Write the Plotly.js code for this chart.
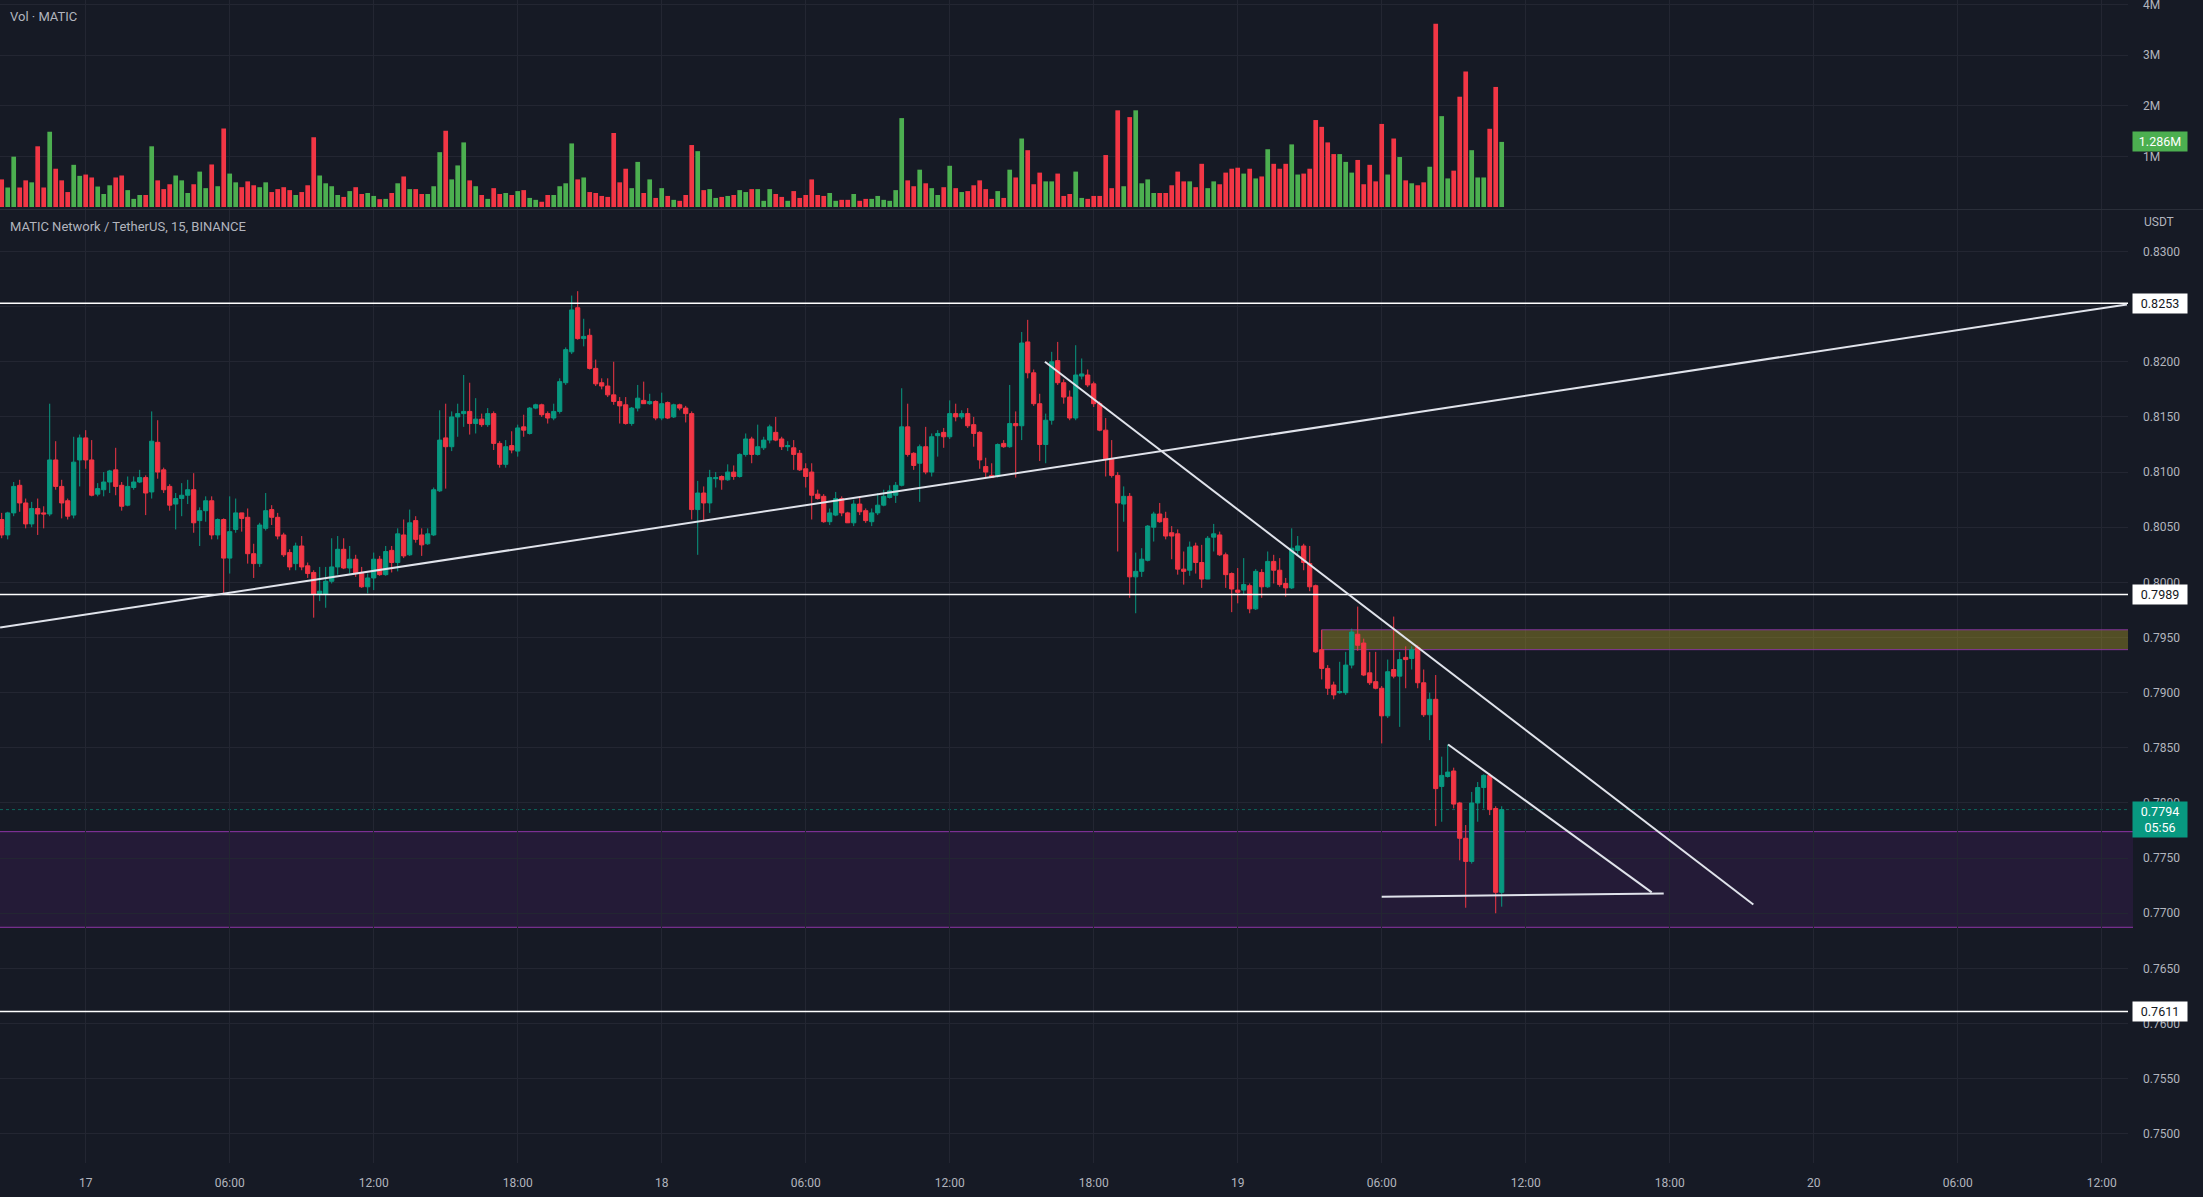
<!DOCTYPE html>
<html><head><meta charset="utf-8">
<script src="https://cdn.plot.ly/plotly-3.0.1.min.js"></script>
<style>html,body{margin:0;padding:0;background:#161a25;overflow:hidden}#chart{width:2203px;height:1197px}</style>
</head><body><div id="chart"></div>
<script>
// 15-minute candles, first candle 2022-12-16 20:30
const START = '2022-12-16T20:30:00Z';
const STEP_MIN = 15;
const OPEN = [
.8057,.8043,.8063,.8088,.8072,.8053,.8067,.8063,.8062,.8111,
.8087,.8074,.8061,.8111,.8131,.8111,.8080,.8084,.8091,.8102,
.8088,.8070,.8086,.8091,.8095,.8082,.8127,.8102,.8087,.8071,
.8076,.8079,.8084,.8056,.8065,.8074,.8043,.8057,.8022,.8048,
.8063,.8059,.8026,.8017,.8049,.8066,.8059,.8043,.8027,.8017,
.8033,.8015,.8009,.7989,.7989,.8001,.8014,.8030,.8013,.8021,
.8008,.7996,.8004,.8021,.8007,.8029,.8018,.8043,.8025,.8056,
.8043,.8035,.8043,.8083,.8131,.8123,.8150,.8153,.8155,.8144,
.8148,.8143,.8153,.8126,.8107,.8124,.8119,.8141,.8135,.8158,
.8161,.8153,.8149,.8155,.8181,.8209,.8249,.8221,.8224,.8194,
.8181,.8178,.8170,.8164,.8161,.8144,.8158,.8165,.8162,.8164,
.8149,.8163,.8150,.8161,.8158,.8153,.8066,.8081,.8072,.8094,
.8096,.8093,.8100,.8096,.8116,.8130,.8116,.8122,.8129,.8136,
.8130,.8123,.8122,.8117,.8103,.8100,.8080,.8078,.8055,.8061,
.8076,.8063,.8054,.8071,.8065,.8055,.8063,.8070,.8077,.8079,
.8088,.8141,.8117,.8108,.8123,.8100,.8133,.8136,.8132,.8153,
.8150,.8153,.8143,.8136,.8105,.8097,.8096,.8126,.8123,.8144,
.8142,.8218,.8190,.8162,.8125,.8147,.8201,.8181,.8168,.8149,
.8187,.8188,.8180,.8162,.8138,.8112,.8097,.8071,.8078,.8005,
.8010,.8020,.8050,.8062,.8058,.8045,.8044,.8012,.8011,.8033,
.8018,.8003,.8041,.8043,.8025,.8008,.7993,.7993,.7997,.7976,
.8009,.7996,.8019,.8011,.7999,.7995,.8029,.8033,.8017,.7997,
.7939,.7922,.7907,.7900,.7900,.7925,.7953,.7945,.7918,.7910,
.7904,.7879,.7921,.7915,.7932,.7931,.7941,.7909,.7880,.7894,
.7815,.7824,.7829,.7800,.7768,.7747,.7800,.7814,.7825,.7795,
.7719];
const HIGH = [
.8063,.8064,.8091,.8093,.8076,.8073,.8076,.8069,.8162,.8128,
.8093,.8076,.8132,.8134,.8138,.8129,.8090,.8100,.8102,.8122,
.8091,.8096,.8096,.8102,.8097,.8155,.8147,.8104,.8089,.8081,
.8090,.8093,.8099,.8068,.8078,.8078,.8058,.8058,.8078,.8076,
.8063,.8067,.8035,.8054,.8081,.8070,.8063,.8045,.8030,.8036,
.8042,.8018,.8011,.8014,.8014,.8040,.8042,.8040,.8033,.8025,
.8014,.8008,.8027,.8024,.8033,.8033,.8049,.8057,.8066,.8060,
.8049,.8049,.8086,.8156,.8162,.8155,.8162,.8188,.8181,.8167,
.8153,.8158,.8155,.8128,.8129,.8137,.8143,.8152,.8159,.8162,
.8162,.8155,.8162,.8185,.8213,.8260,.8264,.8239,.8230,.8202,
.8185,.8185,.8200,.8168,.8168,.8159,.8179,.8182,.8171,.8165,
.8172,.8164,.8162,.8162,.8160,.8155,.8092,.8087,.8102,.8100,
.8097,.8107,.8106,.8117,.8135,.8132,.8143,.8132,.8143,.8150,
.8132,.8128,.8129,.8120,.8108,.8108,.8084,.8080,.8067,.8082,
.8078,.8064,.8075,.8078,.8067,.8067,.8081,.8084,.8088,.8091,
.8176,.8162,.8118,.8125,.8141,.8135,.8138,.8140,.8165,.8162,
.8156,.8158,.8150,.8137,.8113,.8108,.8126,.8129,.8179,.8155,
.8227,.8238,.8193,.8171,.8153,.8209,.8218,.8184,.8174,.8215,
.8203,.8193,.8182,.8164,.8149,.8129,.8100,.8087,.8081,.8027,
.8031,.8052,.8064,.8072,.8064,.8051,.8048,.8028,.8037,.8036,
.8034,.8042,.8053,.8046,.8027,.8009,.8013,.8022,.7999,.8012,
.8012,.8028,.8025,.8022,.8004,.8049,.8042,.8035,.8033,.7998,
.7957,.7925,.7910,.7928,.7937,.7958,.7978,.7949,.7937,.7937,
.7906,.7930,.7969,.7937,.7942,.7942,.7943,.7921,.7900,.7916,
.7842,.7853,.7832,.7801,.7780,.7810,.7819,.7826,.7827,.7797,
.7797];
const LOW = [
.8040,.8039,.8060,.8064,.8049,.8050,.8043,.8049,.8060,.8084,
.8058,.8057,.8058,.8087,.8103,.8078,.8078,.8078,.8081,.8079,
.8065,.8069,.8084,.8090,.8061,.8076,.8094,.8081,.8065,.8048,
.8060,.8071,.8045,.8033,.8055,.8039,.8039,.7990,.8008,.8045,
.8046,.8017,.8004,.8014,.8047,.8052,.8039,.8023,.8011,.8011,
.8011,.8004,.7968,.7983,.7977,.7999,.8007,.8012,.8008,.8005,
.7995,.7990,.7993,.8006,.8006,.8009,.8010,.8022,.8024,.8036,
.8024,.8034,.8042,.8082,.8085,.8119,.8132,.8141,.8134,.8135,
.8141,.8141,.8120,.8104,.8104,.8117,.8114,.8132,.8134,.8157,
.8150,.8144,.8147,.8153,.8179,.8207,.8220,.8214,.8193,.8178,
.8175,.8168,.8161,.8144,.8143,.8142,.8155,.8162,.8161,.8147,
.8147,.8148,.8149,.8156,.8145,.8057,.8025,.8055,.8063,.8086,
.8084,.8092,.8093,.8095,.8114,.8108,.8115,.8120,.8126,.8128,
.8120,.8119,.8102,.8101,.8086,.8057,.8075,.8054,.8052,.8060,
.8060,.8054,.8051,.8061,.8054,.8051,.8061,.8069,.8076,.8072,
.8087,.8114,.8102,.8073,.8098,.8096,.8114,.8122,.8130,.8146,
.8148,.8140,.8123,.8103,.8095,.8095,.8095,.8122,.8122,.8095,
.8129,.8185,.8160,.8110,.8108,.8143,.8179,.8162,.8147,.8147,
.8184,.8177,.8159,.8137,.8096,.8095,.8028,.8055,.7986,.7972,
.8005,.8019,.8037,.8054,.8039,.8021,.8007,.7998,.8006,.8008,
.7995,.8003,.8028,.8024,.7995,.7973,.7981,.7989,.7972,.7975,
.7986,.7995,.7999,.7996,.7987,.7994,.8024,.8011,.7992,.7936,
.7912,.7898,.7894,.7899,.7898,.7922,.7938,.7915,.7907,.7903,
.7854,.7877,.7913,.7869,.7904,.7921,.7904,.7878,.7857,.7779,
.7783,.7823,.7795,.7748,.7705,.7745,.7783,.7795,.7789,.7700,
.7706];
const CLOSE = [
.8043,.8063,.8087,.8072,.8053,.8067,.8062,.8062,.8111,.8087,
.8072,.8060,.8109,.8131,.8111,.8079,.8085,.8091,.8101,.8087,
.8069,.8087,.8091,.8095,.8081,.8128,.8100,.8084,.8070,.8076,
.8079,.8084,.8054,.8065,.8074,.8043,.8057,.8022,.8046,.8063,
.8058,.8026,.8017,.8052,.8065,.8059,.8042,.8025,.8014,.8033,
.8014,.8008,.7989,.7992,.8001,.8014,.8030,.8013,.8021,.8008,
.7996,.8004,.8021,.8007,.8028,.8018,.8044,.8024,.8054,.8039,
.8034,.8044,.8084,.8129,.8123,.8150,.8153,.8155,.8144,.8148,
.8143,.8153,.8126,.8107,.8123,.8120,.8140,.8138,.8158,.8161,
.8152,.8149,.8155,.8182,.8211,.8247,.8221,.8223,.8194,.8180,
.8178,.8170,.8164,.8160,.8144,.8158,.8167,.8162,.8164,.8149,
.8162,.8149,.8161,.8158,.8153,.8066,.8081,.8072,.8095,.8095,
.8093,.8100,.8096,.8116,.8130,.8116,.8123,.8129,.8141,.8129,
.8123,.8124,.8116,.8102,.8096,.8079,.8076,.8055,.8063,.8076,
.8063,.8054,.8071,.8064,.8056,.8063,.8070,.8078,.8083,.8088,
.8141,.8116,.8106,.8123,.8100,.8132,.8135,.8132,.8153,.8150,
.8153,.8142,.8135,.8111,.8100,.8095,.8125,.8123,.8144,.8142,
.8217,.8190,.8162,.8125,.8147,.8200,.8181,.8168,.8149,.8188,
.8189,.8179,.8162,.8138,.8112,.8097,.8072,.8078,.8005,.8010,
.8021,.8051,.8062,.8055,.8042,.8042,.8012,.8010,.8032,.8018,
.8003,.8040,.8044,.8025,.8007,.7994,.7991,.7998,.7976,.8010,
.7996,.8019,.8011,.7998,.7995,.8031,.8033,.8018,.7996,.7937,
.7922,.7904,.7898,.7901,.7925,.7955,.7943,.7916,.7909,.7904,
.7879,.7919,.7915,.7930,.7930,.7939,.7909,.7880,.7894,.7813,
.7825,.7828,.7799,.7768,.7747,.7800,.7814,.7825,.7794,.7719,
.7794];
// volume in millions
const VOLUME = [
0.545,0.385,0.994,0.385,0.526,0.487,1.199,0.385,1.487,0.756,
0.526,0.295,0.833,0.615,0.641,0.583,0.404,0.256,0.429,0.583,
0.622,0.333,0.160,0.237,0.237,1.199,0.526,0.353,0.449,0.622,
0.526,0.276,0.449,0.699,0.372,0.840,0.410,1.551,0.660,0.487,
0.391,0.506,0.429,0.391,0.487,0.295,0.353,0.391,0.333,0.237,
0.295,0.429,1.378,0.622,0.468,0.410,0.237,0.199,0.314,0.391,
0.256,0.276,0.218,0.154,0.160,0.276,0.468,0.603,0.353,0.353,
0.256,0.256,0.410,1.083,1.506,0.545,0.821,1.276,0.526,0.410,
0.237,0.160,0.372,0.256,0.276,0.237,0.314,0.333,0.179,0.141,
0.103,0.237,0.237,0.410,0.468,1.256,0.545,0.583,0.295,0.276,
0.218,0.199,1.462,0.487,0.756,0.372,0.891,0.276,0.545,0.179,
0.372,0.218,0.141,0.122,0.237,1.224,1.103,0.333,0.353,0.179,
0.199,0.218,0.237,0.333,0.295,0.353,0.353,0.122,0.353,0.256,
0.199,0.122,0.314,0.179,0.237,0.545,0.237,0.218,0.276,0.122,
0.141,0.141,0.256,0.122,0.160,0.160,0.218,0.141,0.122,0.333,
1.756,0.526,0.410,0.737,0.468,0.372,0.237,0.391,0.814,0.372,
0.295,0.314,0.429,0.526,0.353,0.160,0.314,0.179,0.737,0.583,
1.353,1.122,0.449,0.679,0.506,0.506,0.660,0.218,0.256,0.699,
0.179,0.160,0.218,0.218,1.026,0.372,1.910,0.410,1.776,1.910,
0.468,0.545,0.276,0.276,0.276,0.429,0.699,0.506,0.506,0.391,
0.853,0.372,0.506,0.449,0.679,0.756,0.776,0.660,0.756,0.564,
0.603,1.141,0.853,0.756,0.853,1.237,0.641,0.660,0.756,1.718,
1.583,1.276,1.045,1.045,0.891,0.679,0.929,0.449,0.833,0.506,
1.641,0.641,1.353,0.987,0.526,0.468,0.429,0.487,0.795,3.622,
1.795,0.564,0.718,2.179,2.679,1.122,0.583,0.583,1.545,2.372,
1.286];

// drawings on the chart
const LEVELS = [0.8253, 0.7989, 0.7611];
const TREND_LINES = [
  {t0:'2022-12-16 20:26', p0:0.7959, t1:'2022-12-20 13:03', p1:0.8252},
  {t0:'2022-12-18 15:58', p0:0.8200, t1:'2022-12-19 21:29', p1:0.7708},
  {t0:'2022-12-19 08:46', p0:0.7853, t1:'2022-12-19 17:15', p1:0.7719},
  {t0:'2022-12-19 06:00', p0:0.7715, t1:'2022-12-19 17:45', p1:0.7718}
];
const PURPLE_ZONE = [0.76873, 0.77740];
const SUPPLY_ZONE = {t0:'2022-12-19 03:30', t1:'2022-12-22 00:00', p0:0.7939, p1:0.7957};
const LAST_PRICE = 0.7794, COUNTDOWN = '05:56', LAST_VOL_LABEL = '1.286M';
const X_RANGE = ['2022-12-16 20:25:45', '2022-12-20 13:05:42'];
const X_TICKS = ['2022-12-17 00:00','2022-12-17 06:00','2022-12-17 12:00','2022-12-17 18:00',
  '2022-12-18 00:00','2022-12-18 06:00','2022-12-18 12:00','2022-12-18 18:00',
  '2022-12-19 00:00','2022-12-19 06:00','2022-12-19 12:00','2022-12-19 18:00',
  '2022-12-20 00:00','2022-12-20 06:00','2022-12-20 12:00'];
const X_TICK_TEXT = ['17','06:00','12:00','18:00','18','06:00','12:00','18:00','19','06:00','12:00','18:00','20','06:00','12:00'];
const VOL_TICKS = [1,2,3,4], VOL_TICK_TEXT = ['1M','2M','3M','4M'];

const t0 = Date.parse(START);
const TIME = OPEN.map((_, k) => new Date(t0 + k*STEP_MIN*60000).toISOString().slice(0,16).replace('T',' '));

const UP = '#089981', DOWN = '#f23645', VUP = '#4caf50', VDOWN = '#f23645';
const BG = '#161a25', GRID = '#232632', TXT = '#b2b5be';
const FONT = 'Roboto, "Liberation Sans", sans-serif';

const W = 2203, H = 1197, MR = 75, MB = 34;
const plotH = H - MB;
const volBottomPx = 209, pricetopPx = 210;
const edge = (W - MR + 5) / (W - MR);

const traces = [
  {type:'candlestick', x:TIME, open:OPEN, high:HIGH, low:LOW, close:CLOSE, xaxis:'x', yaxis:'y',
   increasing:{line:{color:UP,width:1}, fillcolor:UP},
   decreasing:{line:{color:DOWN,width:1}, fillcolor:DOWN},
   whiskerwidth:0, hoverinfo:'skip', showlegend:false},
  {type:'bar', x:TIME, y:VOLUME, xaxis:'x', yaxis:'y2',
   marker:{color:CLOSE.map((c,k)=> c>=OPEN[k]?VUP:VDOWN), line:{width:0}},
   hoverinfo:'skip', showlegend:false}
];

const shapes = [];
// purple demand zone (fill + top/bottom borders)
shapes.push({type:'rect', xref:'paper', x0:0, x1:edge, yref:'y', y0:PURPLE_ZONE[0], y1:PURPLE_ZONE[1],
  fillcolor:'rgba(123,31,162,0.15)', line:{width:0}, layer:'between'});
PURPLE_ZONE.forEach(p => shapes.push({type:'line', xref:'paper', x0:0, x1:edge, yref:'y', y0:p, y1:p,
  line:{color:'#8e35a8', width:1}, layer:'between'}));
// supply box
shapes.push({type:'rect', xref:'x', x0:SUPPLY_ZONE.t0, x1:SUPPLY_ZONE.t1, yref:'y', y0:SUPPLY_ZONE.p0, y1:SUPPLY_ZONE.p1,
  fillcolor:'rgba(167,151,39,0.42)', line:{color:'rgba(142,53,168,0.9)', width:1}, layer:'between'});
// horizontal levels
LEVELS.forEach(p => shapes.push({type:'line', xref:'paper', x0:0, x1:1, yref:'y', y0:p, y1:p,
  line:{color:'#ffffff', width:1.5}}));
// last price dotted line
shapes.push({type:'line', xref:'paper', x0:0, x1:1, yref:'y', y0:LAST_PRICE, y1:LAST_PRICE,
  line:{color:'rgba(8,153,129,0.6)', width:1, dash:'dot'}, layer:'between'});
// trend lines
TREND_LINES.forEach(l => shapes.push({type:'line', xref:'x', yref:'y', x0:l.t0, y0:l.p0, x1:l.t1, y1:l.p1,
  line:{color:'#e0e3eb', width:2}}));
// pane separator
const sepY = 1 - 209.5/plotH;
shapes.push({type:'line', xref:'paper', yref:'paper', x0:0, x1:W/(W-MR), y0:sepY, y1:sepY,
  line:{color:'#2a2e39', width:1}});

const labelBox = (y, text, bg, fg, yref, extra) => Object.assign({
  xref:'paper', x:1, xanchor:'left', xshift:4, yref:yref||'y', y:y, yanchor:'middle',
  text:text, showarrow:false, bgcolor:bg, borderpad:2, width:50, align:'center',
  font:{family:FONT, size:12.5, color:fg}}, extra||{});

const annotations = [
  {xref:'paper', yref:'paper', x:8/(W-MR), y:1-16/plotH, xanchor:'left', yanchor:'middle', showarrow:false,
   text:'Vol · MATIC', font:{family:FONT, size:13, color:TXT}},
  {xref:'paper', yref:'paper', x:8/(W-MR), y:1-226/plotH, xanchor:'left', yanchor:'middle', showarrow:false,
   text:'MATIC Network / TetherUS, 15, BINANCE', font:{family:FONT, size:13, color:TXT}},
  {xref:'paper', yref:'paper', x:1, xshift:14, y:1-222/plotH, xanchor:'left', yanchor:'middle', showarrow:false,
   text:'USDT', font:{family:FONT, size:12, color:TXT}},
  labelBox(LEVELS[0], LEVELS[0].toFixed(4), '#ffffff', '#131722'),
  labelBox(LEVELS[1], LEVELS[1].toFixed(4), '#ffffff', '#131722'),
  labelBox(LEVELS[2], LEVELS[2].toFixed(4), '#ffffff', '#131722'),
  labelBox(LAST_PRICE, LAST_PRICE.toFixed(4)+'<br>'+COUNTDOWN, UP, '#ffffff', 'y', {yanchor:'top', yshift:9}),
  labelBox(VOLUME[VOLUME.length-1], LAST_VOL_LABEL, VUP, '#ffffff', 'y2')
];

const layout = {
  width:W, height:H, margin:{l:0, r:MR, t:0, b:MB},
  paper_bgcolor:BG, plot_bgcolor:BG, showlegend:false,
  font:{family:FONT, color:TXT, size:12},
  boxgap:0, boxgroupgap:0.3, bargap:0.22,
  xaxis:{type:'date', range:X_RANGE, rangeslider:{visible:false}, tickmode:'array', tickvals:X_TICKS, ticktext:X_TICK_TEXT,
    showgrid:true, gridcolor:GRID, gridwidth:1, zeroline:false, showline:false, ticks:'', ticklabelstandoff:11,
    tickfont:{family:FONT, size:12, color:TXT}, fixedrange:true, anchor:'y'},
  yaxis:{domain:[0, 1 - pricetopPx/plotH], range:[0.74736, 0.83376], side:'right', anchor:'x',
    tickmode:'linear', tick0:0.75, dtick:0.005, tickformat:'.4f', showgrid:true, gridcolor:GRID, zeroline:false,
    ticks:'', ticklabelstandoff:14, tickfont:{family:FONT, size:12, color:TXT}, fixedrange:true},
  yaxis2:{domain:[1 - volBottomPx/plotH, 1], range:[-0.04, 4.09], side:'right', anchor:'x',
    tickmode:'array', tickvals:VOL_TICKS, ticktext:VOL_TICK_TEXT, showgrid:true, gridcolor:GRID, zeroline:false,
    ticks:'', ticklabelstandoff:14, ticklabeloverflow:'allow', tickfont:{family:FONT, size:12, color:TXT}, fixedrange:true},
  shapes:shapes, annotations:annotations
};

Plotly.newPlot('chart', traces, layout, {displayModeBar:false, staticPlot:true});
</script></body></html>
